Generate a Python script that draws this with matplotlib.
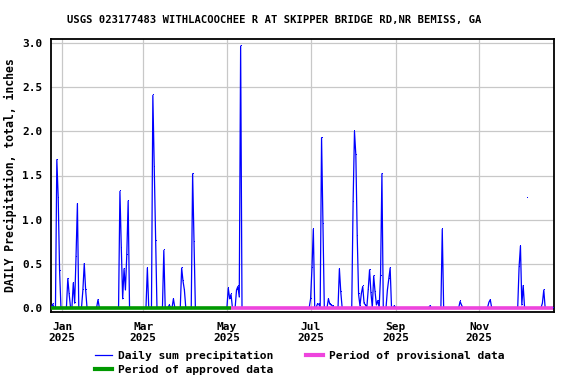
import datetime as dt
import numpy as np
import pandas as pd
import matplotlib
matplotlib.use("Agg")
import matplotlib.pyplot as plt
import matplotlib.dates as mdates
from matplotlib.lines import Line2D

# daily precipitation (inches), days not listed are 0
rain_dates = [
    "2024-12-25", "2024-12-28", "2024-12-29", "2024-12-30",
    "2025-01-05", "2025-01-06", "2025-01-09", "2025-01-10", "2025-01-11", "2025-01-12",
    "2025-01-16", "2025-01-17", "2025-01-18", "2025-01-27",
    "2025-02-12", "2025-02-13", "2025-02-14", "2025-02-15", "2025-02-16", "2025-02-17", "2025-02-18",
    "2025-03-04", "2025-03-08", "2025-03-09", "2025-03-10", "2025-03-16", "2025-03-20", "2025-03-23",
    "2025-03-29", "2025-03-30", "2025-03-31", "2025-04-06", "2025-04-07",
    "2025-05-02", "2025-05-03", "2025-05-04", "2025-05-08", "2025-05-09", "2025-05-10", "2025-05-11",
    "2025-07-01", "2025-07-02", "2025-07-03", "2025-07-06", "2025-07-07", "2025-07-09", "2025-07-10",
    "2025-07-14", "2025-07-15", "2025-07-16", "2025-07-17", "2025-07-22", "2025-07-23",
    "2025-08-01", "2025-08-02", "2025-08-03", "2025-08-04", "2025-08-05", "2025-08-06", "2025-08-07",
    "2025-08-08", "2025-08-09", "2025-08-10", "2025-08-12", "2025-08-13", "2025-08-14", "2025-08-16",
    "2025-08-17", "2025-08-18", "2025-08-19", "2025-08-21", "2025-08-22", "2025-08-26", "2025-08-27",
    "2025-08-28", "2025-08-31", "2025-09-26", "2025-10-05", "2025-10-18", "2025-10-19",
    "2025-11-08", "2025-11-09", "2025-11-30", "2025-12-01", "2025-12-02", "2025-12-03",
    "2025-12-06", "2025-12-17", "2025-12-18",
]
rain_values = [
    0.04, 1.68, 1.25, 0.42,
    0.33, 0.15, 0.28, 0.05, 0.58, 1.18,
    0.20, 0.50, 0.20, 0.09,
    1.32, 0.68, 0.10, 0.44, 0.20, 0.60, 1.21,
    0.45, 2.41, 1.60, 0.76, 0.65, 0.03, 0.10,
    0.45, 0.30, 0.20, 1.52, 0.74,
    0.22, 0.10, 0.15, 0.20, 0.24, 0.12, 2.97,
    0.10, 0.45, 0.89, 0.04, 0.04, 1.93, 0.95,
    0.10, 0.04, 0.03, 0.02, 0.44, 0.18,
    1.20, 2.00, 1.73, 0.81, 0.15, 0.02, 0.16,
    0.24, 0.05, 0.03, 0.20, 0.43, 0.17, 0.36,
    0.18, 0.03, 0.08, 0.36, 1.52, 0.20, 0.33,
    0.45, 0.02, 0.02, 0.89, 0.07, 0.03,
    0.06, 0.09, 0.46, 0.70, 0.03, 0.25,
    1.24, 0.05, 0.20,
]
missing_dates = ["2025-12-05", "2025-12-07"]

record_start = "2024-12-24"
record_end = "2025-12-25"
approved_end = "2025-05-04"

days = pd.date_range(record_start, record_end, freq="D")
rain = pd.Series(rain_values, index=pd.to_datetime(rain_dates)).reindex(days, fill_value=0.0)
rain[pd.to_datetime(missing_dates)] = np.nan

mono = "DejaVu Sans Mono"
plt.rcParams["font.family"] = mono
plt.rcParams["font.weight"] = "bold"

fig = plt.figure(figsize=(5.76, 3.84), dpi=100)
ax = fig.add_axes([51 / 576, 1 - 312 / 384, 503 / 576, 273 / 384])

ax.plot(rain.index, rain.values, color="#0000ff", lw=0.9, marker=",", zorder=3)

# data-status bars along zero
ax.plot(pd.to_datetime([record_start, approved_end]), [0, 0], color="#009900",
        lw=2.6, solid_capstyle="butt", zorder=4)
ax.plot(pd.to_datetime([approved_end, record_end]), [0, 0], color="#ee44dd",
        lw=2.6, solid_capstyle="butt", zorder=4)

ax.set_xlim(dt.datetime(2024, 12, 23, 18), dt.datetime(2025, 12, 25, 11))
ax.set_ylim(-0.05, 3.05)
ax.set_yticks(np.arange(0, 3.01, 0.5))
ax.yaxis.set_major_formatter(plt.FormatStrFormatter("%.1f"))
ax.xaxis.set_major_locator(mdates.MonthLocator(bymonth=[1, 3, 5, 7, 9, 11]))
ax.xaxis.set_major_formatter(mdates.DateFormatter("%b\n%Y"))
ax.tick_params(axis="x", length=0, pad=7, labelsize=8)
ax.tick_params(axis="y", length=0, pad=6, labelsize=8)
ax.grid(True, color="#c8c8c8", lw=0.9)
ax.set_axisbelow(True)
for s in ax.spines.values():
    s.set_linewidth(1.3)

ax.set_ylabel("DAILY Precipitation, total, inches", fontsize=8.3, fontweight="bold", labelpad=4)
fig.text(274 / 576, 1 - 20 / 384, "USGS 023177483 WITHLACOOCHEE R AT SKIPPER BRIDGE RD,NR BEMISS, GA",
         ha="center", va="center", fontsize=7.6, fontweight="bold")

handles = [
    Line2D([], [], color="#0000ff", lw=0.9),
    Line2D([], [], color="#009900", lw=3),
    Line2D([], [], color="#ee44dd", lw=3),
]
labels = ["Daily sum precipitation", "Period of approved data", "Period of provisional data"]
fig.legend(handles, labels, ncol=2, loc="upper left", bbox_to_anchor=(95 / 576, 1 - 351 / 384),
           frameon=False, fontsize=8.1, handlelength=1.55, handletextpad=0.5,
           columnspacing=2.9, labelspacing=0.35, borderaxespad=0, borderpad=0)

fig.savefig("out.png", dpi=100)
